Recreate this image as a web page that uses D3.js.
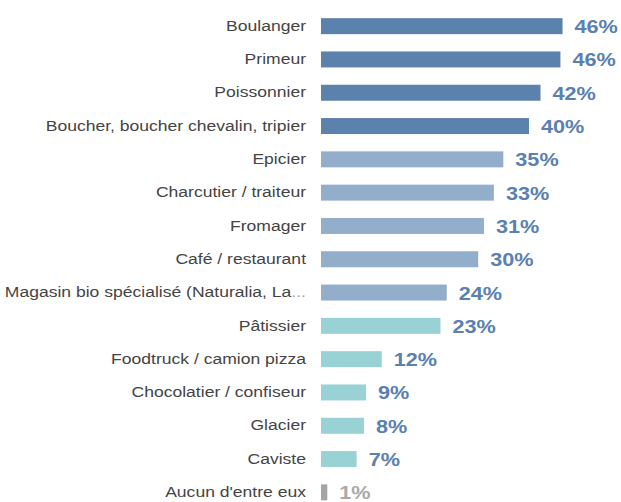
<!DOCTYPE html>
<html>
<head>
<meta charset="utf-8">
<script src="https://cdn.jsdelivr.net/npm/d3@7"></script>
<style>
  body { margin: 0; background: #fff; }
  text { font-family: "Liberation Sans", Arial, sans-serif; }
</style>
</head>
<body>
<svg id="chart" width="621" height="502"></svg>
<script>
const categories = [
  "Boulanger", "Primeur", "Poissonnier", "Boucher, boucher chevalin, tripier",
  "Epicier", "Charcutier / traiteur", "Fromager", "Café / restaurant",
  "Magasin bio spécialisé (Naturalia, La", "Pâtissier", "Foodtruck / camion pizza",
  "Chocolatier / confiseur", "Glacier", "Caviste", "Aucun d'entre eux"
];
const values = [46.1, 45.7, 41.9, 39.7, 34.8, 33.0, 31.1, 30.0, 24.0, 22.8, 11.6, 8.6, 8.2, 6.8, 1.2];
const groups = ["top", "top", "top", "top", "mid", "mid", "mid", "mid", "mid", "low", "low", "low", "low", "low", "none"];
const truncated = ["Magasin bio spécialisé (Naturalia, La"];

const barColor = { top: "#5b81ad", mid: "#93aecb", low: "#98d2d5", none: "#a5a5a5" };
const labelColor = { top: "#5a80b0", mid: "#5a80b0", low: "#5a80b0", none: "#a9a9a9" };

var svg = d3.select("#chart");
var data = categories.map((c, i) => ({ name: c, value: values[i], group: groups[i] }));

var x = d3.scaleLinear().domain([0, 46]).range([321, 562]);
var y = d3.scaleBand().domain(categories).range([9.5, 509]).paddingInner(0.52).paddingOuter(0.26);

var rows = svg.selectAll(".row").data(data).enter().append("g").attr("class", "row");

rows.append("rect")
  .attr("x", x(0))
  .attr("y", d => y(d.name))
  .attr("width", d => x(d.value) - x(0))
  .attr("height", y.bandwidth())
  .attr("fill", d => barColor[d.group]);

// category names, a bit stretched like the source
var cat = rows.append("text")
  .attr("transform", d => `translate(${x(0) - 15},${y(d.name) + y.bandwidth() / 2 + 1}) scale(1.17,1)`)
  .attr("text-anchor", "end")
  .attr("dominant-baseline", "middle")
  .attr("fill", "#444")
  .style("font-size", "15px");
cat.append("tspan").text(d => d.name);
cat.filter(d => truncated.includes(d.name))
  .append("tspan").attr("fill", "#a0a0a0").text("...");

rows.append("text")
  .attr("transform", d => `translate(${x(d.value) + 12},${y(d.name) + y.bandwidth() / 2 + 2}) scale(1.14,1)`)
  .attr("dominant-baseline", "middle")
  .attr("fill", d => labelColor[d.group])
  .style("font-size", "19px")
  .style("font-weight", "bold")
  .text(d => Math.round(d.value) + "%");
</script>
</body>
</html>
